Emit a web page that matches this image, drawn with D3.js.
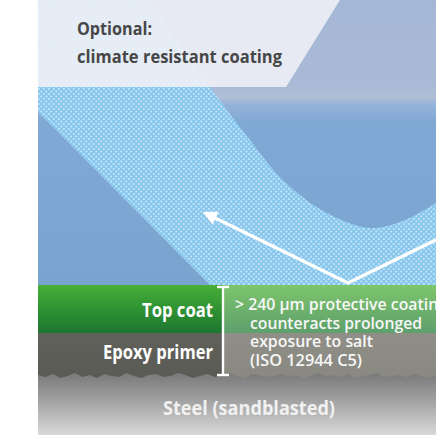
<!DOCTYPE html>
<html><head><meta charset="utf-8">
<script src="https://cdn.jsdelivr.net/npm/d3@7"></script>
<style>html,body{margin:0;padding:0;background:#fff;}svg{display:block;}</style>
</head><body>
<script>
// ---- data ----
const titleLines = ["Optional:", "climate resistant coating"];
const layerNames = ["Top coat", "Epoxy primer", "Steel (sandblasted)"];
const layerThickness = [48, 42, 60];           // relative thickness of the layers
const noteLines = ["> 240 µm protective coating", "counteracts prolonged", "exposure to salt", "(ISO 12944 C5)"];
const roughness = [0,2,-1,3,1,-2,2,0,3,-1,1,2,-2,1,3,0,-1,2,1,-2,0,3,1,-1,2,0,-2,1,3,-1,0,2,1,-1,2,0,3,1,-2,1,0,2,-1,3,1,0,-2,2,1,0,2,-1,1,3,0];

const W = 436, H = 435, L = 38, xSplit = 223;
const svg = d3.select("body").append("svg").attr("width", W).attr("height", H);
const defs = svg.append("defs");

// scales
const depth = d3.scaleLinear().domain([0, d3.sum(layerThickness)]).range([285, 435]);
const bounds = d3.cumsum([0, ...layerThickness]).map(d => depth(d));
const xr = d3.scaleLinear().domain([0, roughness.length - 1]).range([L, W]);

// gradients
function lg(id, stops, y1, y2) {
  const g = defs.append("linearGradient").attr("id", id).attr("gradientUnits", "userSpaceOnUse")
    .attr("x1", 0).attr("x2", 0).attr("y1", y1).attr("y2", y2);
  stops.forEach(s => g.append("stop").attr("offset", s[0]).attr("stop-color", s[1]));
}
lg("sky", [[0, "#a5b7d7"], [0.30, "#a9bad6"], [0.34, "#b1bfd6"], [0.37, "#93b2d9"], [0.43, "#80a8d4"], [1, "#7aa4d0"]], 0, 285);
lg("greenL", [[0, "#48ae36"], [0.5, "#2f9333"], [1, "#1e7530"]], bounds[0], bounds[1]);
lg("greenR", [[0, "#7dc56c"], [1, "#5e9f6c"]], bounds[0], bounds[1]);
lg("grayL", [[0, "#60615a"], [1, "#5a5b54"]], bounds[1], bounds[2]);
lg("grayR", [[0, "#908f87"], [1, "#8a8981"]], bounds[1], bounds[2]);
lg("steel", [[0, "#767676"], [0.5, "#a5a5a5"], [1, "#d9d9d9"]], bounds[2] - 4, H);

const pat = defs.append("pattern").attr("id", "dots").attr("patternUnits", "userSpaceOnUse")
  .attr("width", 5).attr("height", 5);
pat.append("rect").attr("x", 0.4).attr("y", 0.6).attr("width", 1.8).attr("height", 1.8).attr("fill", "#fff");
pat.append("rect").attr("x", 2.9).attr("y", 3.1).attr("width", 1.8).attr("height", 1.8).attr("fill", "#fff");

// sky
svg.append("rect").attr("x", L).attr("y", 0).attr("width", W - L).attr("height", bounds[0]).attr("fill", "url(#sky)");

// cyan band
const bandTop = [[150, 0], [180, 45], [210, 87], [250, 140], [283, 180], [325, 212], [370, 228], [405, 220], [436, 203]];
const curve = d3.line().curve(d3.curveCatmullRom);
const bandPath = "M" + L + ",0L" + curve(bandTop).slice(1) + "L" + W + "," + bounds[0] + "L210," + bounds[0] + "L" + L + ",112Z";
svg.append("path").attr("d", bandPath).attr("fill", "#88c7ed");
svg.append("path").attr("d", bandPath).attr("fill", "url(#dots)").attr("opacity", 0.55);

// light title panel
svg.append("path").attr("d", `M${L},0L340,0L286,87L${L},87Z`).attr("fill", "#eef0f6").attr("opacity", 0.9);

// title text
const titleW = [75, 205];
svg.selectAll("text.title").data(titleLines).join("text").attr("class", "title")
  .attr("x", 77).attr("y", (d, i) => 35 + i * 28)
  .attr("textLength", (d, i) => titleW[i]).attr("lengthAdjust", "spacingAndGlyphs")
  .attr("font-family", "Open Sans").attr("font-weight", 700).attr("font-size", 18).attr("fill", "#474747")
  .text(d => d);

// arrows
const vertex = [348, 283], tip = [203, 212], rightEnd = [446, 235];
svg.append("path").attr("d", d3.line()([rightEnd, vertex, [tip[0] + 8, tip[1] + 4]]))
  .attr("fill", "none").attr("stroke", "#fff").attr("stroke-width", 3.2).attr("stroke-linejoin", "miter");
{
  const dx = tip[0] - vertex[0], dy = tip[1] - vertex[1], len = Math.hypot(dx, dy);
  const ux = dx / len, uy = dy / len, bx = tip[0] - ux * 14, by = tip[1] - uy * 14;
  svg.append("path").attr("d", d3.line()([tip, [bx - uy * 7, by + ux * 7], [bx + uy * 7, by - ux * 7]]) + "Z").attr("fill", "#fff");
}

// steel
svg.append("rect").attr("x", L).attr("y", bounds[2] - 5).attr("width", W - L).attr("height", H - bounds[2] + 5).attr("fill", "url(#steel)");

// layers
function rough(x0, x1) {
  return roughness.map((r, i) => [xr(i), bounds[2] + r]).filter(p => p[0] >= x0 - 8 && p[0] <= x1 + 8);
}
function layerPath(x0, x1, yTop) {
  const pts = rough(x0, x1).map(p => [Math.max(x0, Math.min(x1, p[0])), p[1]]).reverse();
  return `M${x0},${yTop}L${x1},${yTop}` + pts.map(p => `L${p[0]},${p[1]}`).join("") + "Z";
}
svg.append("path").attr("d", layerPath(L, xSplit, bounds[1])).attr("fill", "url(#grayL)");
svg.append("path").attr("d", layerPath(xSplit, W, bounds[1])).attr("fill", "url(#grayR)");
svg.append("rect").attr("x", L).attr("y", bounds[0]).attr("width", xSplit - L).attr("height", bounds[1] - bounds[0]).attr("fill", "url(#greenL)");
svg.append("rect").attr("x", xSplit).attr("y", bounds[0]).attr("width", W - xSplit).attr("height", bounds[1] - bounds[0]).attr("fill", "url(#greenR)");

// bracket
const bk = svg.append("g").attr("stroke", "#fff").attr("stroke-width", 2.4);
bk.append("line").attr("x1", xSplit).attr("x2", xSplit).attr("y1", bounds[0] + 2).attr("y2", bounds[2]);
bk.append("line").attr("x1", xSplit - 6).attr("x2", xSplit + 6).attr("y1", bounds[0] + 2).attr("y2", bounds[0] + 2);
bk.append("line").attr("x1", xSplit - 6).attr("x2", xSplit + 6).attr("y1", bounds[2]).attr("y2", bounds[2]);

// layer labels
const labelSpec = [{x: 142, w: 71, y: 317}, {x: 103, w: 110, y: 359}, {x: 163, w: 172, y: 415}];
svg.selectAll("text.layer").data(layerNames).join("text").attr("class", "layer")
  .attr("x", (d, i) => labelSpec[i].x).attr("y", (d, i) => labelSpec[i].y)
  .attr("textLength", (d, i) => labelSpec[i].w).attr("lengthAdjust", "spacingAndGlyphs")
  .attr("font-family", "Open Sans").attr("font-weight", 700).attr("font-size", 19)
  .attr("fill", (d, i) => i === 2 ? "#f1f1f1" : "#fff")
  .text(d => d);

// note lines
const noteW = [212, 172, 123, 112];
svg.selectAll("text.note").data(noteLines).join("text").attr("class", "note")
  .attr("x", (d, i) => i === 0 ? 235 : 250).attr("y", (d, i) => 310 + i * 18.7)
  .attr("textLength", (d, i) => noteW[i]).attr("lengthAdjust", "spacingAndGlyphs")
  .attr("font-family", "Open Sans").attr("font-weight", 600).attr("font-size", 16).attr("fill", "#f7f7f7")
  .text(d => d);
</script>
</body></html>
